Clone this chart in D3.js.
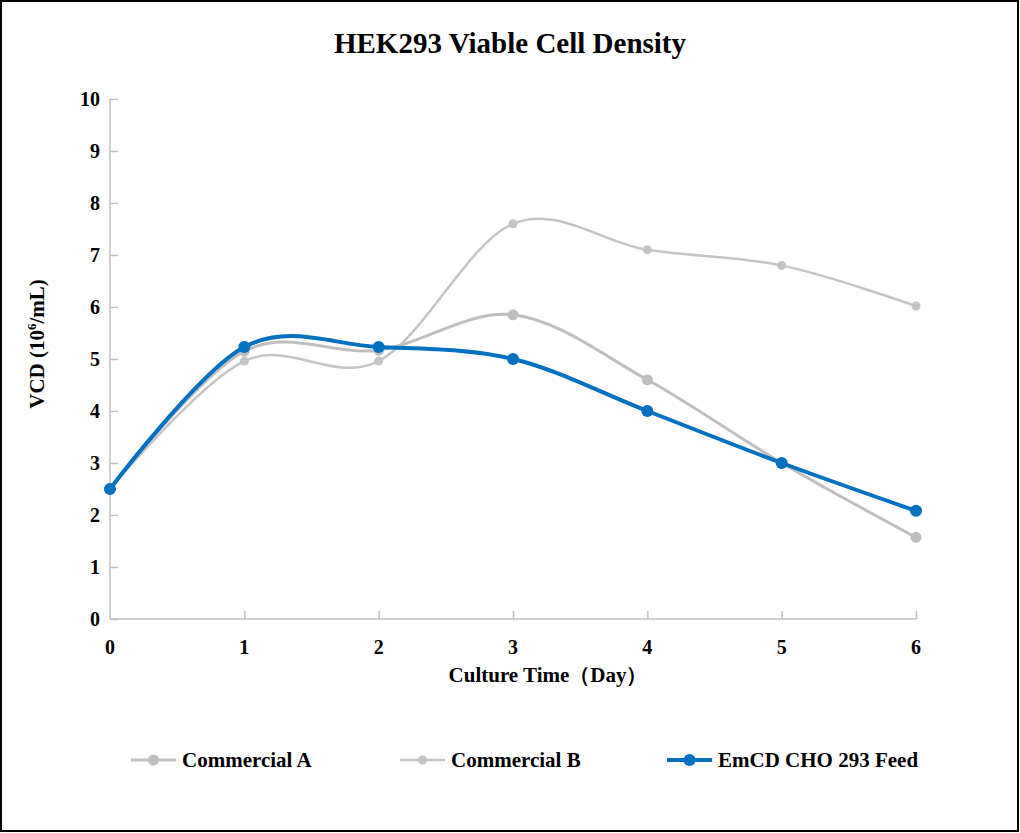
<!DOCTYPE html>
<html><head><meta charset="utf-8">
<script src="https://cdn.jsdelivr.net/npm/d3@7"></script>
<style>body{margin:0;background:#fff}svg{display:block}</style>
</head><body>
<svg id="c" width="1020" height="833"></svg>
<script>
const days = [0, 1, 2, 3, 4, 5, 6];
const commercialA = [2.5, 5.15, 5.17, 5.85, 4.6, 3.0, 1.57];
const commercialB = [2.5, 4.96, 4.96, 7.6, 7.1, 6.8, 6.02];
const emcd = [2.5, 5.23, 5.23, 5.0, 4.0, 3.0, 2.08];
const yTicks = [0,1,2,3,4,5,6,7,8,9,10];
const seriesNames = ["Commercial A", "Commercial B", "EmCD CHO 293 Feed"];

const svg = d3.select("#c");
const font = "'Liberation Serif','Times New Roman',serif";
svg.append("rect").attr("x",1).attr("y",1).attr("width",1017).attr("height",830)
  .attr("fill","#fff").attr("stroke","#000").attr("stroke-width",2);

const x = d3.scaleLinear().domain([0,6]).range([110,916]);
const y = d3.scaleLinear().domain([0,10]).range([619,99]);
const axisColor = "#bfbfbf";

// y axis
const ya = svg.append("g").attr("transform","translate(110,0)")
  .call(d3.axisRight(y).tickValues(yTicks).tickSize(8).tickFormat(""));
ya.select(".domain").attr("stroke",axisColor).attr("stroke-width",1.5).attr("d","M0,99V619");
ya.selectAll(".tick line").attr("stroke",axisColor).attr("stroke-width",1.5);
svg.append("g").selectAll("text").data(yTicks).join("text")
  .attr("x",100).attr("y",d=>y(d)+7).attr("text-anchor","end")
  .attr("font-family",font).attr("font-weight","bold").attr("font-size",20).text(d=>d);

// x axis
const xa = svg.append("g").attr("transform","translate(0,619)")
  .call(d3.axisTop(x).tickValues(days.slice(1)).tickSize(8).tickFormat(""));
xa.select(".domain").attr("stroke",axisColor).attr("stroke-width",1.5).attr("d","M110,0H916");
xa.selectAll(".tick line").attr("stroke",axisColor).attr("stroke-width",1.5);
svg.append("g").selectAll("text").data(days).join("text")
  .attr("x",d=>x(d)).attr("y",654).attr("text-anchor","middle")
  .attr("font-family",font).attr("font-weight","bold").attr("font-size",20).text(d=>d);

// titles
svg.append("text").attr("x",510).attr("y",53).attr("text-anchor","middle")
  .attr("font-family",font).attr("font-weight","bold").attr("font-size",29)
  .text("HEK293 Viable Cell Density");
svg.append("text").attr("x",548).attr("y",682).attr("text-anchor","middle")
  .attr("font-family",font).attr("font-weight","bold").attr("font-size",21)
  .text("Culture Time（Day）");
const yt = svg.append("text").attr("transform","translate(44,344) rotate(-90)")
  .attr("text-anchor","middle").attr("font-family",font).attr("font-weight","bold").attr("font-size",21);
yt.append("tspan").text("VCD (10");
yt.append("tspan").attr("font-size",13).attr("dy",-8).text("6");
yt.append("tspan").attr("dy",8).text("/mL)");

const styles = [
  {data: commercialA, color:"#bfbfbf", w:3, r:5.5},
  {data: commercialB, color:"#c4c4c4", w:2.5, r:4.5},
  {data: emcd, color:"#0070c0", w:4, r:6}
];
const line = d3.line().x((d,i)=>x(days[i])).y(d=>y(d)).curve(d3.curveCardinal.tension(0));
styles.forEach(s=>{
  svg.append("path").attr("d",line(s.data)).attr("fill","none")
    .attr("stroke",s.color).attr("stroke-width",s.w);
  svg.append("g").selectAll("circle").data(s.data).join("circle")
    .attr("cx",(d,i)=>x(days[i])).attr("cy",d=>y(d)).attr("r",s.r).attr("fill",s.color);
});

// legend
const legX = [131, 400, 667];
styles.forEach((s,i)=>{
  const g = svg.append("g").attr("transform",`translate(${legX[i]},760)`);
  g.append("line").attr("x1",0).attr("x2",45).attr("stroke",s.color).attr("stroke-width",s.w);
  g.append("circle").attr("cx",22.5).attr("r",s.r).attr("fill",s.color);
  g.append("text").attr("x",51).attr("y",7).attr("font-family",font).attr("font-weight","bold")
    .attr("font-size",21).text(seriesNames[i]);
});
</script>
</body></html>
